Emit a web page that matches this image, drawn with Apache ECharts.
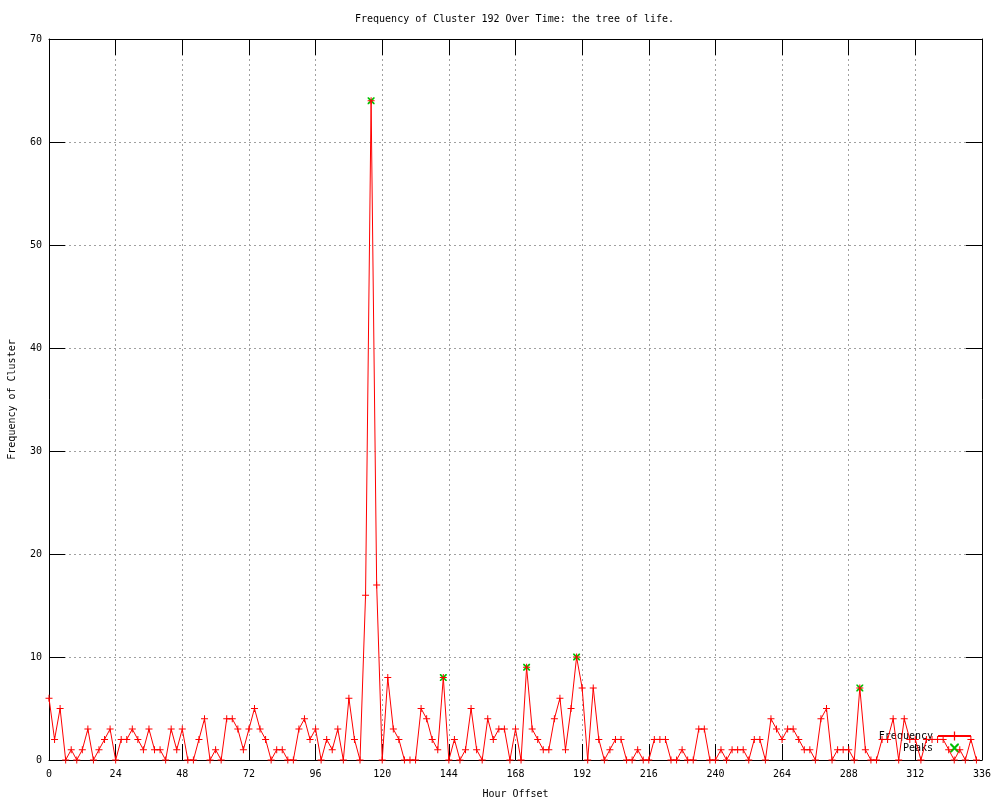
<!DOCTYPE html>
<html>
<head>
<meta charset="utf-8">
<script src="https://cdn.jsdelivr.net/npm/echarts@6/dist/echarts.min.js"></script>
<style>
html,body{margin:0;padding:0;background:#fff;}
#chart{width:1000px;height:800px;}
</style>
</head>
<body>
<div id="chart"></div>
<script>
// Hour offsets of the samples
const hours = [0,2,4,6,8,10,12,14,16,18,20,22,24,26,28,30,32,34,36,38,40,42,44,46,48,50,52,54,56,58,
  60,62,64,66,68,70,72,74,76,78,80,82,84,86,88,90,92,94,96,98,100,102,104,106,108,110,112,114,116,118,
  120,122,124,126,128,130,132,134,136,138,140,142,144,146,148,150,152,154,156,158,160,162,164,166,168,170,172,174,176,178,
  180,182,184,186,188,190,192,194,196,198,200,202,204,206,208,210,212,214,216,218,220,222,224,226,228,230,232,234,236,238,
  240,242,244,246,248,250,252,254,256,258,260,262,264,266,268,270,272,274,276,278,280,282,284,286,288,290,292,294,296,298,
  300,302,304,306,308,310,312,314,316,318,320,322,324,326,328,330,332,334];
// Frequency of cluster at each hour
const frequency = [6,2,5,0,1,0,1,3,0,1, 2,3,0,2,2,3,2,1,3,1, 1,0,3,1,3,0,0,2,4,0,
  1,0,4,4,3,1,3,5,3,2, 0,1,1,0,0,3,4,2,3,0, 2,1,3,0,6,2,0,16,64,17,
  0,8,3,2,0,0,0,5,4,2, 1,8,0,2,0,1,5,1,0,4, 2,3,3,0,3,0,9,3,2,1,
  1,4,6,1,5,10,7,0,7,2, 0,1,2,2,0,0,1,0,0,2, 2,2,0,0,1,0,0,3,3,0,
  0,1,0,1,1,1,0,2,2,0, 4,3,2,3,3,2,1,1,0,4, 5,0,1,1,1,0,7,1,0,0,
  2,2,4,0,4,2,2,0,2,2, 2,2,1,0,1,0,2,0];
// Detected peaks
const peakHours = [116,142,172,190,292];
const peakValues = [64,8,9,10,7];
// Axis ticks
const xTickMin = 0, xTickMax = 336, xTickStep = 24;
const yTickMin = 0, yTickMax = 70, yTickStep = 10;

const titleText = 'Frequency of Cluster 192 Over Time: the tree of life.';
const xName = 'Hour Offset';
const yName = 'Frequency of Cluster';

const FONT = 'DejaVu Sans Mono';
const plusPath = 'path://M0,3h7v1h-7zM3,0h1v7h-1z';
const crossPath = 'path://M0,0L1.2,0L7,5.8L7,7L5.8,7L0,1.2ZM7,0L7,1.2L1.2,7L0,7L0,5.8L5.8,0Z';

const chart = echarts.init(document.getElementById('chart'), null, {renderer: 'canvas'});

const gridStyle = {show: true, lineStyle: {color: '#a0a0a0', type: [2, 3], width: 1}};
const tickStyle = {show: true, inside: true, length: 16, lineStyle: {color: '#000', width: 1}};
const lineStyleAxis = {show: true, onZero: false, lineStyle: {color: '#000', width: 1}};

chart.setOption({
  animation: false,
  backgroundColor: '#fff',
  title: {
    text: titleText,
    left: 350, top: 9,
    textStyle: {fontFamily: FONT, fontSize: 10, fontWeight: 'normal', color: '#000'}
  },
  grid: {left: 49, right: 18, top: 39, bottom: 40, containLabel: false, outerBoundsMode: 'none'},
  legend: {
    orient: 'vertical',
    right: 23, top: 726,
    align: 'right',
    itemWidth: 33, itemHeight: 11, itemGap: 2,
    textStyle: {fontFamily: FONT, fontSize: 10, color: '#000', padding: [0, 0, 0, 0]},
    data: ['Frequency', 'Peaks']
  },
  xAxis: [
    {
      type: 'value', position: 'bottom', min: xTickMin, max: xTickMax, interval: xTickStep,
      name: xName, nameLocation: 'middle', nameGap: 29,
      nameTextStyle: {fontFamily: FONT, fontSize: 10, color: '#000'},
      axisLine: lineStyleAxis, axisTick: tickStyle, splitLine: gridStyle,
      axisLabel: {fontFamily: FONT, fontSize: 10, color: '#000', margin: 9}
    },
    {
      type: 'value', position: 'top', min: xTickMin, max: xTickMax, interval: xTickStep,
      axisLine: lineStyleAxis, axisTick: tickStyle, splitLine: {show: false},
      axisLabel: {show: false}
    }
  ],
  yAxis: [
    {
      type: 'value', position: 'left', min: yTickMin, max: yTickMax, interval: yTickStep,
      name: yName, nameLocation: 'middle', nameGap: 32, nameRotate: 90,
      nameTextStyle: {fontFamily: FONT, fontSize: 10, color: '#000'},
      axisLine: lineStyleAxis, axisTick: tickStyle, splitLine: gridStyle,
      axisLabel: {fontFamily: FONT, fontSize: 10, color: '#000', margin: 7}
    },
    {
      type: 'value', position: 'right', min: yTickMin, max: yTickMax, interval: yTickStep,
      axisLine: lineStyleAxis, axisTick: tickStyle, splitLine: {show: false},
      axisLabel: {show: false}
    }
  ],
  series: [
    {
      name: 'Peaks',
      type: 'line',
      data: peakHours.map((h, i) => [h, peakValues[i]]),
      symbol: crossPath, symbolSize: 7,
      lineStyle: {width: 0, opacity: 0},
      itemStyle: {color: '#00c000'},
      emphasis: {disabled: true},
      z: 3
    },
    {
      name: 'Frequency',
      type: 'line',
      data: hours.map((h, i) => [h, frequency[i]]),
      symbol: plusPath, symbolSize: 7, showAllSymbol: true,
      clip: false,
      lineStyle: {color: '#ff0000', width: 1},
      itemStyle: {color: '#ff0000'},
      emphasis: {disabled: true},
      z: 4
    }
  ]
});
</script>
</body>
</html>
